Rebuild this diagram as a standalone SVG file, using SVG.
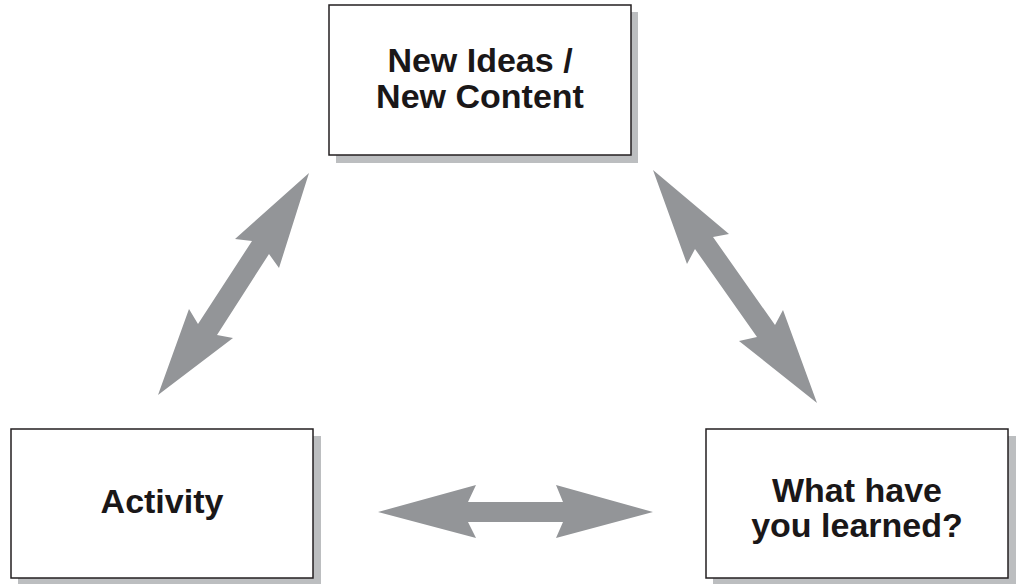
<svg xmlns="http://www.w3.org/2000/svg" width="1021" height="584" viewBox="0 0 1021 584">
<style>
.shadow{fill:#bcbec0}
.box{fill:#ffffff;stroke:#231f20;stroke-width:1.5}
.lbl{font-family:"Liberation Sans",Arial,sans-serif;font-weight:bold;font-size:34px;fill:#1a1718;text-anchor:middle}
.arrow{fill:#939598}
</style>
<rect width="1021" height="584" fill="#ffffff"/>
<g id="connectors">
<polygon class="arrow" points="309,173 279,268 269,254 217,335 233,338 158,395 189,309 198,324 252,241 235,239"/>
<polygon class="arrow" points="653,170 729,234 713,237 775,325 783,310 817,403 739,341 757,337 695,249 687,264"/>
<polygon class="arrow" points="378,512 476,485 468,502 563,502 556,485 653,512 556,538 563,522 468,522 476,538"/>
</g>
<g id="node-new-ideas">
<rect class="shadow" x="336" y="12" width="302" height="151"/>
<rect class="box" x="329" y="5" width="302" height="150"/>
<text class="lbl" x="480" y="72">New Ideas /</text>
<text class="lbl" x="480" y="108">New Content</text>
</g>
<g id="node-activity">
<rect class="shadow" x="18" y="436" width="303" height="148"/>
<rect class="box" x="11" y="429" width="302" height="149"/>
<text class="lbl" x="162" y="513">Activity</text>
</g>
<g id="node-learned">
<rect class="shadow" x="713" y="436" width="303" height="149"/>
<rect class="box" x="706" y="429" width="302" height="149"/>
<text class="lbl" x="857" y="502">What have</text>
<text class="lbl" x="857" y="537">you learned?</text>
</g>
</svg>
